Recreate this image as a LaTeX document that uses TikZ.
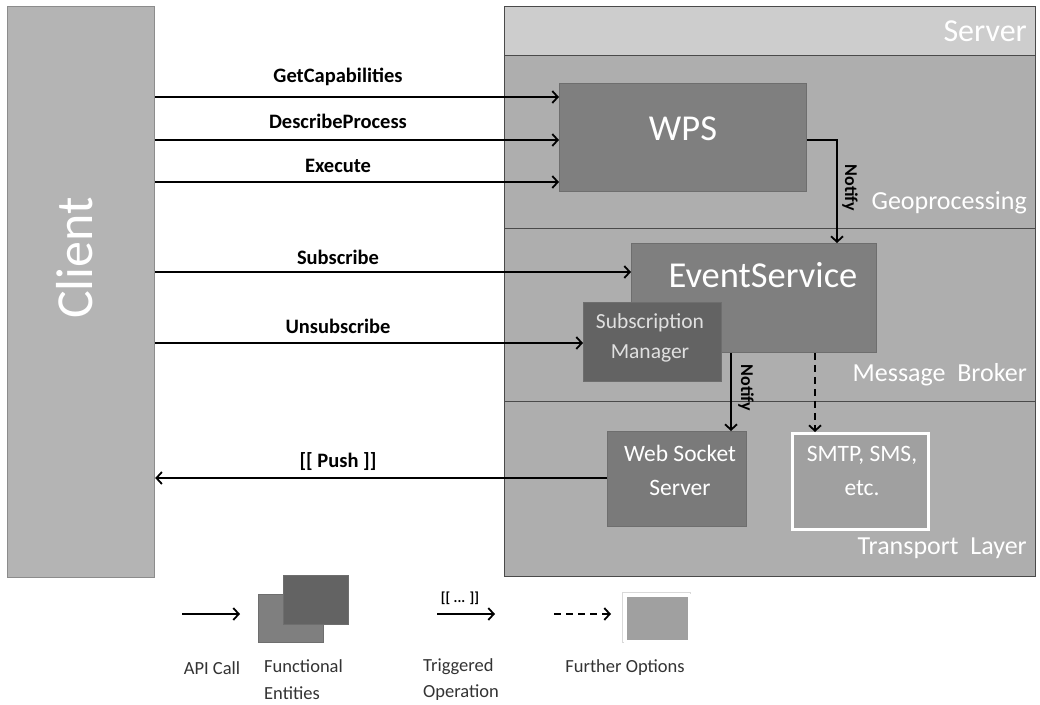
\documentclass[tikz,border=0pt]{standalone}
\usepackage{fontspec}
\setmainfont{Carlito}
\usetikzlibrary{arrows.meta}
\definecolor{clientgray}{HTML}{B4B4B4}
\definecolor{hdrgray}{HTML}{CDCDCD}
\definecolor{layergray}{HTML}{AEAEAE}
\definecolor{boxgray}{HTML}{7F7F7F}
\definecolor{darkbox}{HTML}{636363}
\definecolor{optgray}{HTML}{A0A0A0}
\definecolor{edgegray}{HTML}{4A4A4A}
\tikzset{
  fs/.style={font=\fontsize{#1}{#1}\selectfont},
  panel/.style={draw=edgegray, line width=1.2pt, anchor=north west, inner sep=0pt},
  entity/.style={draw=edgegray!80, line width=0.9pt, fill=boxgray, anchor=north west, inner sep=0pt},
  wlbl/.style={text=white, inner sep=0pt},
  blbl/.style={text=black, inner sep=0pt, font=\fontsize{20.5}{20.5}\selectfont\bfseries},
  legtxt/.style={text=black!80, inner sep=0pt, align=left, font=\fontsize{18.5}{27}\selectfont},
  arr/.style={line width=1.8pt, -{Straight Barb[length=5.5pt,width=12pt]}},
  darr/.style={arr, dash pattern=on 7pt off 5pt},
}
\begin{document}
\begin{tikzpicture}[x=1pt,y=-1pt]
\useasboundingbox (0,0) rectangle (1040,704);
\fill[white] (0,0) rectangle (1040,704);

% Client
\node[panel, draw=black!45, fill=clientgray, minimum width=147, minimum height=571] (client) at (7,6) {};
\node[wlbl, rotate=90, fs=52] (clientlbl) at (75,258) {Client};

% Server and layers
\node[panel, fill=hdrgray, minimum width=531, minimum height=49] (hdr) at (504,6) {};
\node[panel, fill=layergray, minimum width=531, minimum height=173] (geo) at (504,55) {};
\node[panel, fill=layergray, minimum width=531, minimum height=173] (mb) at (504,228) {};
\node[panel, fill=layergray, minimum width=531, minimum height=175] (tl) at (504,401) {};
\node[wlbl, fs=32, anchor=east] (hdrlbl) at (1027,31) {Server};
\node[wlbl, fs=26, anchor=east] (geolbl) at (1027,203) {Geoprocessing};
\node[wlbl, fs=26, anchor=east] (mblbl) at (1027,375) {Message\ \ Broker};
\node[wlbl, fs=26, anchor=east] (tllbl) at (1027,548) {Transport\ \ Layer};

% Entities
\node[entity, minimum width=247, minimum height=108] (wps) at (559,83) {};
\node[wlbl, fs=36.5] (wpslbl) at (683,129) {WPS};
\node[entity, minimum width=245, minimum height=109] (es) at (631,243) {};
\node[wlbl, fs=36.5] (eslbl) at (763,275) {EventService};
\node[entity, fill=darkbox, minimum width=138, minimum height=79] (sm) at (583,302) {};
\node[wlbl, text=white!88!black, align=center, font=\fontsize{21.5}{30}\selectfont] (smlbl) at (650,338) {Subscription\\Manager};
\node[entity, fill=black!52, minimum width=139, minimum height=95] (wss) at (607,431) {};
\node[wlbl, align=center, font=\fontsize{23.5}{34}\selectfont] (wsslbl) at (680,470) {Web Socket\\Server};
\node[draw=white, line width=3pt, fill=optgray, anchor=north west, minimum width=136, minimum height=96, inner sep=0pt] (smtp) at (791,432) {};
\node[wlbl, align=center, font=\fontsize{23.5}{34}\selectfont] (smtplbl) at (862,471) {SMTP, SMS,\\etc.};

% Connectors
\coordinate (y1) at (0,97);
\coordinate (y2) at (0,140);
\coordinate (y3) at (0,182);
\coordinate (y4) at (0,272);
\coordinate (y5) at (0,343);
\coordinate (y6) at (0,478);
\coordinate (n1) at (837,140);
\coordinate (n2) at (731,0);
\coordinate (n3) at (815,0);

\draw[arr] (client.east |- y1) -- (wps.west |- y1);
\draw[arr] (client.east |- y2) -- (wps.west |- y2);
\draw[arr] (client.east |- y3) -- (wps.west |- y3);
\draw[arr] (client.east |- y4) -- (es.west |- y4);
\draw[arr] (client.east |- y5) -- (sm.west |- y5);
\draw[arr] (wss.west |- y6) -- (client.east |- y6);
\draw[arr] (wps.east |- n1) -| (es.north -| n1);
\draw[arr] (es.south -| n2) -- (wss.north -| n2);
\draw[darr] (es.south -| n3) -- (smtp.north -| n3);

\node[blbl] (l1) at (338,77) {GetCapabilities};
\node[blbl] (l2) at (338,121) {DescribeProcess};
\node[blbl] (l3) at (338,166) {Execute};
\node[blbl] (l4) at (338,257) {Subscribe};
\node[blbl] (l5) at (338,326) {Unsubscribe};
\node[blbl] (l6) at (338,462) {[[ Push ]]};
\node[blbl, rotate=-90, font=\fontsize{18}{18}\selectfont\bfseries] (nt1) at (850,188) {Notify};
\node[blbl, rotate=-90, font=\fontsize{18}{18}\selectfont\bfseries] (nt2) at (746,388) {Notify};

% Legend
\coordinate (a1) at (182,614);
\coordinate (a2) at (240,614);
\draw[arr] (a1) -- (a2);
\node[legtxt] (apilbl) at (212,668) {API Call};
\node[entity, minimum width=65, minimum height=48] (fb) at (258,594) {};
\node[entity, fill=darkbox, minimum width=65, minimum height=49] (ff) at (283,575) {};
\node[legtxt, anchor=north west] (felbl) at (264,659) {Functional\\Entities};
\coordinate (t1) at (437,614);
\coordinate (t2) at (495,614);
\draw[arr] (t1) -- (t2);
\node[blbl, font=\fontsize{14.5}{14.5}\selectfont\bfseries] (tlbl) at (460,598) {[[ ... ]]};
\node[legtxt, anchor=north west, font=\fontsize{18.5}{26}\selectfont] (trlbl) at (423,658) {Triggered\\Operation};
\coordinate (d1) at (554,614);
\coordinate (d2) at (611,614);
\draw[darr] (d1) -- (d2);
\draw[black!15, line width=0.8pt] (622,592) rectangle (690,642);
\node[draw=white, line width=3pt, fill=optgray, anchor=north west, minimum width=64, minimum height=46, inner sep=0pt] (fo) at (624,594) {};
\node[legtxt] (folbl) at (625,668) {Further Options};
\end{tikzpicture}
\end{document}
